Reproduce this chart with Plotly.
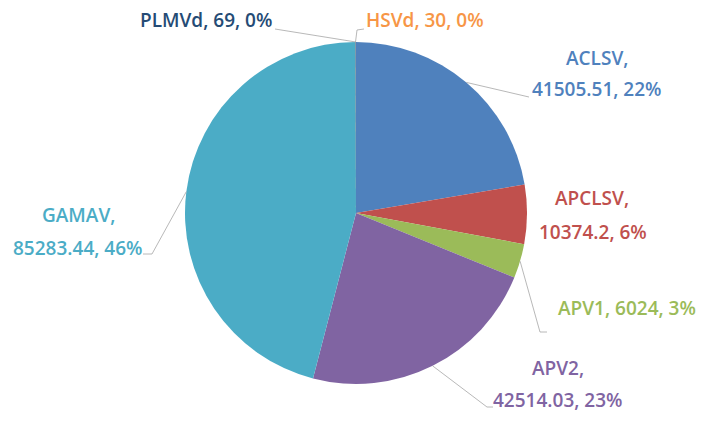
import math
import plotly.graph_objects as go

names = ["ACLSV", "APCLSV", "APV1", "APV2", "GAMAV", "HSVd", "PLMVd"]
values = [41505.51, 10374.2, 6024, 42514.03, 85283.44, 30, 69]
colors = ["#4F81BD", "#C0504D", "#9BBB59", "#8064A2", "#4BACC6", "#F79646", "#1F497D"]
text_colors = ["#4F81BD", "#C0504D", "#9BBB59", "#8064A2", "#4BACC6", "#F79646", "#254B75"]

W, H = 711, 425
CX, CY, R = 356, 213, 171

# label layout (pixel centres of text lines), leader line waypoints
label_layout = {
    "ACLSV": {"lines": [(597, 58), (597, 89)], "leader": [(529, 97)]},
    "APCLSV": {"lines": [(592, 198), (593, 232)], "leader": None},
    "APV1": {"lines": [(627, 308)], "leader": [(540, 332), (547, 332)]},
    "APV2": {"lines": [(558, 368), (558, 400)], "leader": [(487, 407), (493, 407)]},
    "GAMAV": {"lines": [(78, 215), (78, 248)], "leader": [(152, 254), (143, 254)]},
    "HSVd": {"lines": [(425, 20)], "leader": [(357, 30), (364, 29)]},
    "PLMVd": {"lines": [(206, 20)], "leader": [(275, 29)]},
}

total = sum(values)
pcts = [round(v / total * 100) for v in values]

def px(x):
    return x / W

def py(y):
    return 1 - y / H

fig = go.Figure(go.Pie(
    labels=names, values=values, sort=False, direction="clockwise", rotation=0,
    marker=dict(colors=colors, line=dict(width=0)),
    textinfo="none", hoverinfo="label+value+percent", showlegend=False,
    domain=dict(x=[(CX - R) / W, (CX + R) / W], y=[1 - (CY + R) / H, 1 - (CY - R) / H]),
))

annotations = []
shapes = []
font_family = "Open Sans"
cum = 0.0
for name, v, p, tc in zip(names, values, pcts, text_colors):
    mid = (cum + v / 2) / total * 2 * math.pi
    cum += v
    lay = label_layout[name]
    if len(lay["lines"]) == 2:
        texts = [f"{name},", f"{v}, {p}%"]
    else:
        texts = [f"{name}, {v}, {p}%"]
    for t, (lx, ly) in zip(texts, lay["lines"]):
        annotations.append(dict(
            x=px(lx), y=py(ly), xref="paper", yref="paper", text=t, showarrow=False,
            xanchor="center", yanchor="middle",
            font=dict(family=font_family, size=19, color=tc, weight=600),
        ))
    if lay["leader"]:
        sx = CX + R * math.sin(mid)
        sy = CY - R * math.cos(mid)
        pts = [(sx, sy)] + lay["leader"]
        path = "M " + " L ".join(f"{px(a):.5f},{py(b):.5f}" for a, b in pts)
        shapes.append(dict(type="path", path=path, xref="paper", yref="paper",
                           line=dict(color="#A6A6A6", width=0.8)))

fig.update_layout(
    width=W, height=H, margin=dict(l=0, r=0, t=0, b=0),
    paper_bgcolor="white", plot_bgcolor="white",
    annotations=annotations, shapes=shapes,
)
fig.write_html("out.html")
